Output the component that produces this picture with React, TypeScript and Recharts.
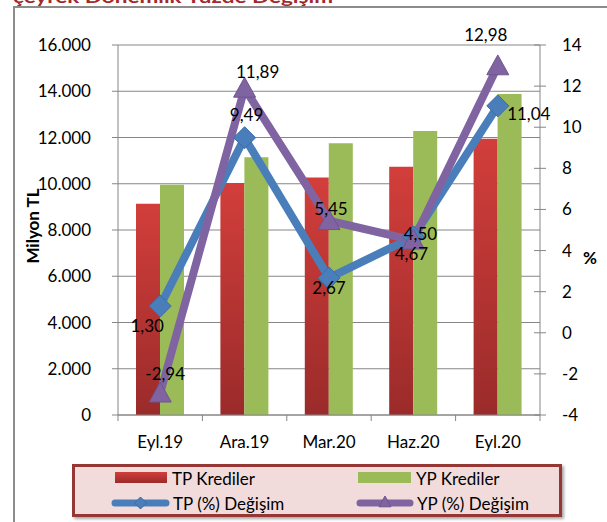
import React from "react";
import {
  ComposedChart,
  Bar,
  Line,
  XAxis,
  YAxis,
  CartesianGrid,
  LabelList,
} from "recharts";

const periods = ["Eyl.19", "Ara.19", "Mar.20", "Haz.20", "Eyl.20"];
const tpKrediler = [9140, 10030, 10270, 10730, 11950];
const ypKrediler = [9960, 11150, 11750, 12280, 13880];
const tpDegisim = [1.3, 9.49, 2.67, 4.67, 11.04];
const ypDegisim = [-2.94, 11.89, 5.45, 4.5, 12.98];
const leftTicks = [0, 2000, 4000, 6000, 8000, 10000, 12000, 14000, 16000];
const rightTicks = [-4, -2, 0, 2, 4, 6, 8, 10, 12, 14];

// label placement (dx, dy from the point), like Excel's manual labels
const tpLabelOffset = [[-13, 19], [2, -23], [0, 10], [-2, 17], [31, 8]];
const ypLabelOffset = [[5, -20], [13, -17], [2, -12], [7, -7], [-12, -31]];

const data = periods.map((p, i) => ({
  period: p,
  tp: tpKrediler[i],
  yp: ypKrediler[i],
  tpPct: tpDegisim[i],
  ypPct: ypDegisim[i],
}));

const W = 607;
const H = 522;
const PLOT_LEFT = 118;
const PLOT_RIGHT = 540;
const PLOT_TOP = 45;
const PLOT_BOTTOM = 415;
const BAND = (PLOT_RIGHT - PLOT_LEFT) / periods.length;

const AXIS = "#868686";
const BLUE = "#4A7EBB";
const PURPLE = "#8064A2";
const GREEN = "#9BBB59";
const FONT = "Lato, 'Open Sans', sans-serif";
const FS = 17;

const thousands = (v: number) => String(v).replace(/\B(?=(\d{3})+(?!\d))/g, ".");
const comma = (v: number) => v.toFixed(2).replace(".", ",");

const RightTick = (props: any) => {
  const { x, y, payload } = props;
  const ax = x - 6 - 16;
  return (
    <g>
      <line x1={ax - 6} x2={ax} y1={y} y2={y} stroke={AXIS} />
      <text x={x} y={y} dy="0.35em" textAnchor="start" fontSize={FS} fill="#000">
        {payload.value}
      </text>
    </g>
  );
};

const XTick = (props: any) => {
  const { x, y, payload, index } = props;
  const ay = y - 8;
  const last = index === periods.length - 1;
  return (
    <g>
      <line x1={x - BAND / 2} x2={x - BAND / 2} y1={ay} y2={ay + 6} stroke={AXIS} />
      {last && (
        <line x1={x + BAND / 2} x2={x + BAND / 2} y1={ay} y2={ay + 6} stroke={AXIS} />
      )}
      <text x={x} y={y + 18} dominantBaseline="central" textAnchor="middle" fontSize={FS} fill="#000">
        {payload.value}
      </text>
    </g>
  );
};

const Diamond = ({ cx, cy, r = 11, fill = BLUE }: any) => (
  <path
    d={`M${cx},${cy - r} L${cx + r},${cy} L${cx},${cy + r} L${cx - r},${cy} Z`}
    fill={fill}
    stroke="#3D6CA6"
    strokeWidth={1}
  />
);

const Triangle = ({ cx, cy, r = 11, fill = PURPLE }: any) => (
  <path
    d={`M${cx},${cy - r} L${cx + r},${cy + r * 0.8} L${cx - r},${cy + r * 0.8} Z`}
    fill={fill}
    stroke="#6E5491"
    strokeWidth={1}
  />
);

const makeLabel = (offsets: number[][]) => (props: any) => {
  const vb = props.viewBox || {};
  const x = props.x ?? vb.x;
  const y = props.y ?? vb.y;
  const i = props.index ?? 0;
  const [dx, dy] = offsets[i] || [0, 0];
  return (
    <text
      key={`lbl-${i}`}
      x={x + dx}
      y={y + dy}
      textAnchor="middle"
      dominantBaseline="central"
      fontSize={FS}
      fill="#000"
    >
      {comma(Number(props.value))}
    </text>
  );
};

export default function App() {
  return (
    <div style={{ position: "relative", width: W, height: H, overflow: "hidden", fontFamily: FONT, background: "#fff" }}>
      <style>{"body{margin:0}"}</style>

      {/* outer frame, cut by the crop */}
      <div
        style={{
          position: "absolute",
          left: 13,
          top: 6,
          width: 640,
          height: 560,
          border: "2px solid #8c8c8c",
          boxSizing: "border-box",
        }}
      />
      <svg width={W} height={12} style={{ position: "absolute", left: 0, top: 0 }}>
        <text
          x={13}
          y={3}
          fontSize={17}
          fontWeight="bold"
          fill="#A2292E"
          textLength={320}
          lengthAdjust="spacingAndGlyphs"
        >
          çeyrek Dönemlik Yüzde Değişim
        </text>
      </svg>

      <div style={{ position: "absolute", left: 0, top: 0 }}>
        <ComposedChart
          width={W}
          height={H}
          data={data}
          margin={{ top: PLOT_TOP, right: 0, bottom: 0, left: 0 }}
          barGap={0}
          style={{ fontFamily: FONT }}
        >
          <defs>
            <linearGradient id="redFill" x1="0" y1="0" x2="0" y2="1">
              <stop offset="0%" stopColor="#D23E3B" />
              <stop offset="100%" stopColor="#9A2B2A" />
            </linearGradient>
          </defs>
          <CartesianGrid yAxisId="left" vertical={false} stroke={AXIS} />
          <XAxis
            dataKey="period"
            height={H - PLOT_BOTTOM}
            stroke={AXIS}
            tickLine={false}
            tickSize={6}
            tickMargin={2}
            tick={<XTick />}
            interval={0}
          />
          <YAxis
            yAxisId="left"
            width={PLOT_LEFT}
            domain={[0, 16000]}
            ticks={leftTicks}
            interval={0}
            stroke={AXIS}
            tickSize={6}
            tickMargin={21}
            tick={{ fill: "#000", fontSize: FS }}
            tickFormatter={thousands}
            label={(props: any) => {
              const vb = props.viewBox || {};
              const cy = (vb.y ?? PLOT_TOP) + (vb.height ?? 370) / 2 - 4;
              return (
                <text
                  x={32}
                  y={cy}
                  transform={`rotate(-90 32 ${cy})`}
                  textAnchor="middle"
                  dominantBaseline="central"
                  fontSize={FS}
                  fontWeight="bold"
                  fill="#000"
                >
                  Milyon TL
                </text>
              );
            }}
          />
          <YAxis
            yAxisId="right"
            orientation="right"
            width={W - PLOT_RIGHT}
            domain={[-4, 14]}
            ticks={rightTicks}
            interval={0}
            stroke={AXIS}
            tickSize={6}
            tickMargin={16}
            tick={<RightTick />}
            label={(props: any) => {
              const vb = props.viewBox || {};
              const cy = (vb.y ?? PLOT_TOP) + (vb.height ?? 370) / 2 + 27;
              return (
                <text x={590} y={cy} textAnchor="middle" dominantBaseline="central" fontSize={FS} fontWeight="bold" fill="#000">
                  %
                </text>
              );
            }}
          />
          <Bar yAxisId="left" dataKey="tp" fill="url(#redFill)" barSize={24} isAnimationActive={false} />
          <Bar yAxisId="left" dataKey="yp" fill={GREEN} barSize={24} isAnimationActive={false} />
          <Line
            yAxisId="right"
            dataKey="tpPct"
            stroke={BLUE}
            strokeWidth={8}
            strokeLinejoin="round"
            dot={(p: any) => <Diamond key={`d-${p.index}`} cx={p.cx} cy={p.cy} />}
            activeDot={false}
            isAnimationActive={false}
          />
          <Line
            yAxisId="right"
            dataKey="ypPct"
            stroke={PURPLE}
            strokeWidth={8}
            strokeLinejoin="round"
            dot={(p: any) => <Triangle key={`t-${p.index}`} cx={p.cx} cy={p.cy} />}
            activeDot={false}
            isAnimationActive={false}
          />
          {/* labels drawn last so they sit on top of both lines */}
          <Line yAxisId="right" dataKey="tpPct" stroke="none" dot={false} activeDot={false} isAnimationActive={false}>
            <LabelList dataKey="tpPct" content={makeLabel(tpLabelOffset)} />
          </Line>
          <Line yAxisId="right" dataKey="ypPct" stroke="none" dot={false} activeDot={false} isAnimationActive={false}>
            <LabelList dataKey="ypPct" content={makeLabel(ypLabelOffset)} />
          </Line>
        </ComposedChart>
      </div>

      {/* legend */}
      <svg width={W} height={H} style={{ position: "absolute", left: 0, top: 0, pointerEvents: "none" }}>
        <defs>
          <filter id="shadow" x="-5%" y="-20%" width="110%" height="150%">
            <feDropShadow dx="2" dy="2" stdDeviation="1.5" floodColor="#000" floodOpacity="0.35" />
          </filter>
          <linearGradient id="redLeg" x1="0" y1="0" x2="0" y2="1">
            <stop offset="0%" stopColor="#D23E3B" />
            <stop offset="100%" stopColor="#9A2B2A" />
          </linearGradient>
        </defs>
        <rect x={73.5} y={465.5} width={487} height={50} fill="#F2DCDB" stroke="#953735" strokeWidth={3} filter="url(#shadow)" />
        <rect x={115} y={472} width={52} height={11} fill="url(#redLeg)" />
        <text x={172} y={478} dominantBaseline="central" fontSize={FS} fill="#000">TP Krediler</text>
        <rect x={358} y={472} width={53} height={11} fill={GREEN} />
        <text x={416} y={478} dominantBaseline="central" fontSize={FS} fill="#000">YP Krediler</text>
        <line x1={115} x2={166} y1={503} y2={503} stroke={BLUE} strokeWidth={7} strokeLinecap="round" />
        <Diamond cx={140.5} cy={503} r={6} />
        <text x={173} y={503} dominantBaseline="central" fontSize={FS} fill="#000">TP (%) Değişim</text>
        <line x1={360} x2={410} y1={503} y2={503} stroke={PURPLE} strokeWidth={7} strokeLinecap="round" />
        <Triangle cx={385} cy={502} r={6} />
        <text x={417} y={503} dominantBaseline="central" fontSize={FS} fill="#000">YP (%) Değişim</text>
      </svg>
    </div>
  );
}
